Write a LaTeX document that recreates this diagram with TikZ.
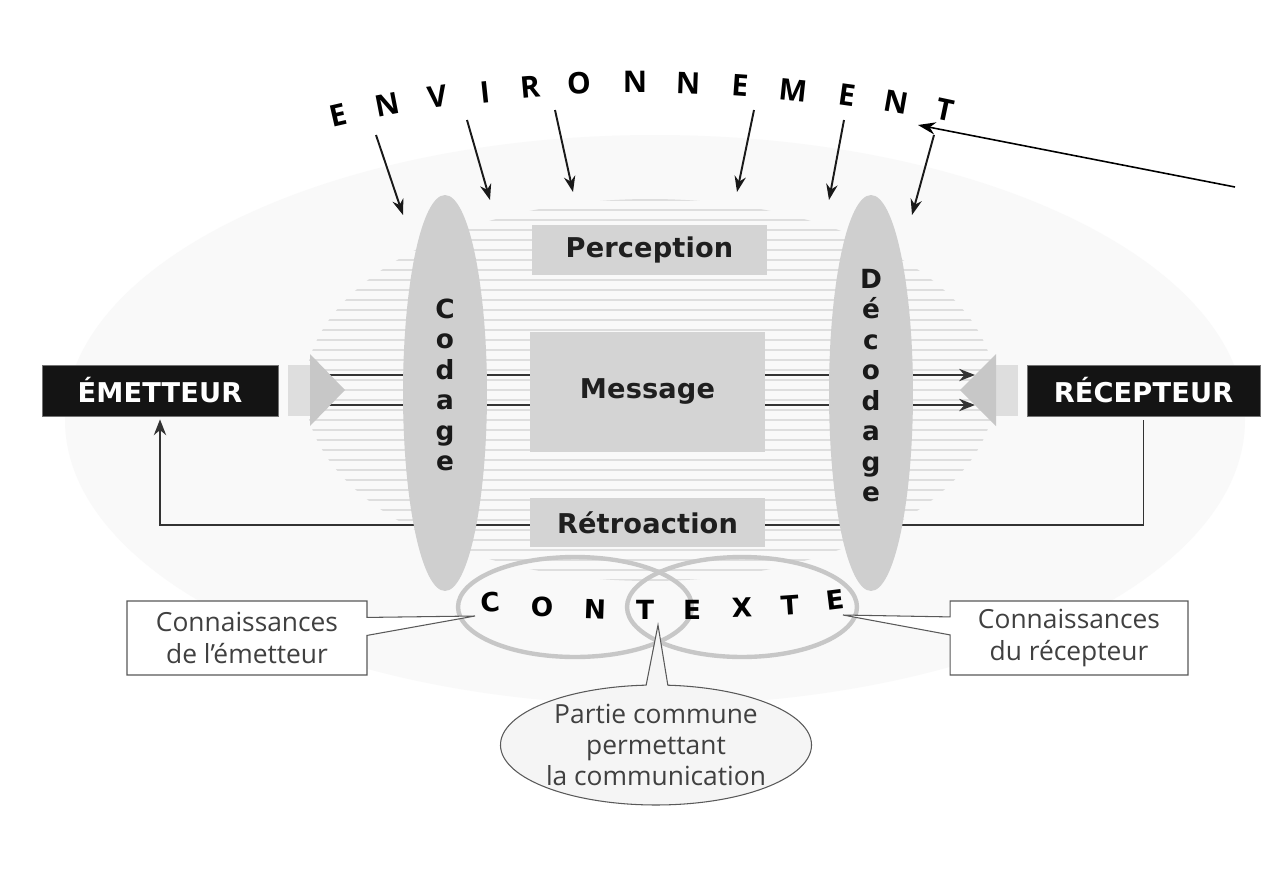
\documentclass[tikz,border=0pt]{standalone}
\usepackage{fontspec}
\setmainfont{Open Sans}
\newfontfamily\heavy[LetterSpace=0.5]{DejaVu Sans}
\newfontfamily\solid{DejaVu Sans}
\usetikzlibrary{shapes.geometric,shapes.callouts,arrows.meta,calc}
\pgfdeclarelayer{bg}
\pgfsetlayers{bg,main}

\begin{document}
\begin{tikzpicture}[x=0.02cm,y=-0.02cm,
  blackbox/.style={draw=black!55, fill=black!92, text=white,
    font=\heavy\bfseries\fontsize{15.5}{17}\selectfont,
    minimum height=1.02cm, inner sep=0pt},
  graybox/.style={fill=black!17, text=black!88,
    font=\heavy\bfseries\fontsize{15.5}{17}\selectfont,
    minimum width=4.7cm, inner sep=0pt},
  lens/.style={ellipse, fill=black!19, minimum width=1.68cm,
    minimum height=7.92cm, inner sep=0pt},
  lensletter/.style={font=\solid\bfseries\fontsize{15}{15}\selectfont,
    text=black!90, anchor=base, inner sep=0pt},
  ring/.style={ellipse, draw=black!22, line width=2.5pt,
    minimum width=4.68cm, minimum height=2cm, inner sep=0pt},
  envletter/.style={font=\bfseries\fontsize{17}{18}\selectfont, inner sep=0pt},
  ctxletter/.style={font=\solid\bfseries\fontsize{15}{15}\selectfont, inner sep=0pt},
  note/.style={rectangle callout, draw=black!65, fill=white, line width=0.6pt,
    text=black!75, font=\fontsize{15}{18}\selectfont, align=center,
    minimum height=1.48cm, inner sep=0pt, callout pointer width=0.36cm},
  bubble/.style={ellipse callout, draw=black!65, fill=black!4, line width=0.6pt,
    text=black!75, font=\fontsize{15}{17.5}\selectfont, align=center,
    minimum width=4.68cm, minimum height=2.4cm, inner sep=0pt,
    callout pointer arc=8},
  envarrow/.style={-{Stealth[length=9pt,width=6.5pt]}, line width=1.1pt, black!90},
  flow/.style={line width=1.1pt, black!80},
  flowtip/.style={flow, -{Stealth[length=9pt,width=7pt]}},
]
\useasboundingbox (0,0) rectangle (1279,880);

% backdrop: soft oval and the horizontal ruling behind the channel
\begin{pgfonlayer}{bg}
  \fill[white] (0,0) rectangle (1279,880);
  \fill[black!2.5] (655,420) ellipse [x radius=590, y radius=285];
  \begin{scope}
    \clip (650,390) ellipse [x radius=345, y radius=191];
    \foreach \yy in {200,210,...,580}
      \draw[black!13, line width=0.6pt] (300,\yy) -- (1000,\yy);
  \end{scope}
\end{pgfonlayer}

% wide grey arrows at both ends of the channel
\fill[black!13] (288,365) rectangle (311,416);
\fill[black!22] (310,354) -- (345,390) -- (310,426) -- cycle;
\fill[black!13] (995,365) rectangle (1018,416);
\fill[black!22] (996,354) -- (960,390) -- (996,426) -- cycle;

% coding / decoding lenses
\node[lens] (codage) at (445,393) {};
\node[lens] (decodage) at (871,393) {};
\foreach \ch [count=\i] in {C,o,d,a,g,e}
  \node[lensletter] (cod\i) at (445,{318+(\i-1)*30.5}) {\ch};
\foreach \ch [count=\i] in {D,é,c,o,d,a,g,e}
  \node[lensletter] (dec\i) at (871,{288+(\i-1)*30.5}) {\ch};

% boxes
\node[blackbox, minimum width=4.72cm] (emet) at (160,390.5) {ÉMETTEUR};
\node[blackbox, minimum width=4.66cm] (recep) at (1143.5,390.5) {RÉCEPTEUR};
\node[graybox, minimum height=1.0cm] (perc) at (649.5,250) {Perception};
\node[graybox, minimum height=2.4cm] (msg) at (647.5,392) {Message};
\node[graybox, minimum height=0.98cm] (retro) at (647.5,522.5) {Rétroaction};

% channel lines and feedback loop
\coordinate (srcA) at (320,375);
\coordinate (srcB) at (320,405);
\coordinate (dstA) at (975,375);
\coordinate (dstB) at (975,405);
\coordinate (fbturn) at (0,525);
\begin{pgfonlayer}{bg}
  \draw[flow] (srcA) -- (msg.west |- srcA);
  \draw[flow] (srcB) -- (msg.west |- srcB);
  \draw[flowtip] (msg.east |- dstA) -- (dstA);
  \draw[flowtip] (msg.east |- dstB) -- (dstB);
  \draw[flowtip] ($(recep.south)+(0,4)$) |- (emet.south |- fbturn)
    -- ($(emet.south)+(0,3)$);
\end{pgfonlayer}

% ENVIRONNEMENT along an arc
\foreach \ch/\xx/\yy/\rr [count=\i] in {
  E/338/115/13, N/387/105/11, V/438/97/8, I/485/92/6, R/530/87/5,
  O/579/83/3, N/635/82/0, N/688/83/-2, E/740/85/-4, M/793/90/-6,
  E/847/95/-8, N/896/102/-10, T/945/110/-12}
  \node[envletter, rotate=\rr] (env\i) at (\xx,\yy) {\ch};

% influences of the environment
\foreach \sx/\sy/\ex/\ey [count=\i] in {
  376/135/403/215, 467/120/490/200, 555/110/573/192,
  754/110/737/192, 844/120/829/200, 934/135/912/215} {
  \coordinate (ein\i) at (\sx,\sy);
  \coordinate (eout\i) at (\ex,\ey);
  \draw[envarrow] (ein\i) -- (eout\i);
}
\coordinate (farsrc) at (1235,187);
\coordinate (fartip) at (918,125);
\draw[-{Stealth[length=10pt,width=7pt]}, line width=0.9pt] (farsrc) -- (fartip);

% context rings
\node[ring] (ctxL) at (575,607) {};
\node[ring, minimum width=4.6cm] (ctxR) at (742,607) {};
\foreach \ch/\xx/\yy/\rr [count=\i] in {
  C/490/602/4, O/542/607/0, N/595/609/-2, T/645/610/0,
  E/692/610/0, X/742/608/2, T/790/605/4, E/835/600/7}
  \node[ctxletter, rotate=\rr] (ctx\i) at (\xx,\yy) {\ch};

% callouts
\coordinate (tipL) at (475,616);
\coordinate (tipR) at (843,615);
\coordinate (tipC) at (658,625);
\node[note, minimum width=4.8cm, callout absolute pointer={(tipL)}]
  (knowE) at (247,638) {Connaissances\\de l’émetteur};
\node[note, minimum width=4.76cm, callout absolute pointer={(tipR)}]
  (knowR) at (1069,638) {Connaissances\\du récepteur};
\node[bubble, callout absolute pointer={(tipC)}]
  (shared) at (656,745) {Partie commune\\permettant\\la communication};
\end{tikzpicture}
\end{document}
